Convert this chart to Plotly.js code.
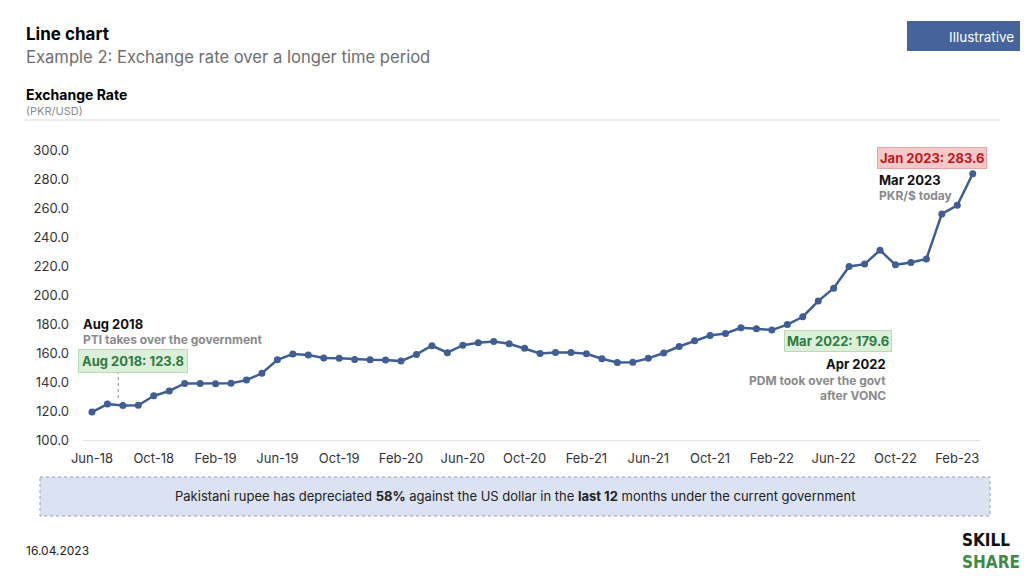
<!DOCTYPE html>
<html>
<head>
<meta charset="utf-8">
<script src="https://cdn.plot.ly/plotly-3.0.1.min.js"></script>
<style>html,body{margin:0;padding:0;background:#fff;}#chart{width:1024px;height:576px;}</style>
</head>
<body>
<div id="chart"></div>
<script>
const months = ["Jun-18","Jul-18","Aug-18","Sep-18","Oct-18","Nov-18","Dec-18",
"Jan-19","Feb-19","Mar-19","Apr-19","May-19","Jun-19","Jul-19","Aug-19","Sep-19","Oct-19","Nov-19","Dec-19",
"Jan-20","Feb-20","Mar-20","Apr-20","May-20","Jun-20","Jul-20","Aug-20","Sep-20","Oct-20","Nov-20","Dec-20",
"Jan-21","Feb-21","Mar-21","Apr-21","May-21","Jun-21","Jul-21","Aug-21","Sep-21","Oct-21","Nov-21","Dec-21",
"Jan-22","Feb-22","Mar-22","Apr-22","May-22","Jun-22","Jul-22","Aug-22","Sep-22","Oct-22","Nov-22","Dec-22",
"Jan-23","Feb-23","Mar-23"];
const rates = [119.3,124.8,123.8,124.0,130.5,133.8,139.0,
139.0,138.8,139.2,141.3,146.0,155.3,159.3,158.6,156.5,156.3,155.6,155.3,
155.1,154.4,159.0,165.0,160.2,165.4,167.0,168.0,166.4,163.2,159.7,160.4,
160.4,159.5,156.0,153.5,153.7,156.3,160.0,164.5,168.4,172.1,173.5,177.4,
176.7,175.8,179.6,185.0,195.8,204.7,219.7,221.3,230.9,220.8,222.4,224.9,
255.9,261.9,283.6];
const tickLabels = ["Jun-18","Oct-18","Feb-19","Jun-19","Oct-19","Feb-20","Jun-20","Oct-20","Feb-21","Jun-21","Oct-21","Feb-22","Jun-22","Oct-22","Feb-23"];
const yTicks = [100,120,140,160,180,200,220,240,260,280,300];

const L = 83, R = 44, T = 150, B = 136, W = 1024, H = 576;
const pw = W - L - R, ph = H - T - B;
const px = X => (X - L) / pw;
const py = Y => (H - B - Y) / ph;
const FONT = "Inter, 'Noto Sans', sans-serif";
const NARROW = "'DejaVu Sans Condensed', 'Liberation Sans Narrow', sans-serif";

function txt(text, X, Y, opts) {
  return Object.assign({
    text: text, xref: 'paper', yref: 'paper', x: px(X), y: py(Y),
    xanchor: 'left', yanchor: 'middle', showarrow: false,
    font: {family: FONT, size: 13, color: '#111'}
  }, opts || {});
}

const annotations = [
  txt('<b>Line chart</b>', 24, 34, {font: {family: FONT, size: 17, color: '#000'}}),
  txt('Example 2: Exchange rate over a longer time period', 24, 57, {font: {family: FONT, size: 16.6, color: '#6e6e6e'}}),
  txt('<b>Exchange Rate</b>', 24, 95, {font: {family: FONT, size: 14, color: '#000'}}),
  txt('(PKR/USD)', 24, 111, {font: {family: FONT, size: 11, color: '#8a8a8a'}}),
  txt('Illustrative', 1016, 37, {xanchor: 'right', font: {family: FONT, size: 13.5, color: '#ffffff'}}),

  txt('<b>Aug 2018</b>', 81, 324, {font: {family: FONT, size: 13, color: '#111'}}),
  txt('<b>PTI takes over the government</b>', 81, 339, {font: {family: FONT, size: 12, color: '#8a8a8a'}}),
  txt('<b>Aug 2018: 123.8</b>', 133, 361, {xanchor: 'center', bgcolor: '#dcefd9', bordercolor: '#b9dcb3', borderwidth: 1, borderpad: 3,
       font: {family: FONT, size: 13, color: '#2f7a42'}}),

  txt('<b>Jan 2023: 283.6</b>', 932, 158, {xanchor: 'center', bgcolor: '#f5c9c9', bordercolor: '#e6a5a5', borderwidth: 1, borderpad: 2,
       font: {family: FONT, size: 13, color: '#c4161c'}}),
  txt('<b>Mar 2023</b>', 877, 180, {font: {family: FONT, size: 13, color: '#111'}}),
  txt('<b>PKR/$ today</b>', 877, 195, {font: {family: FONT, size: 12, color: '#8a8a8a'}}),

  txt('<b>Mar 2022: 179.6</b>', 838, 341, {xanchor: 'center', bgcolor: '#dcefd9', bordercolor: '#b9dcb3', borderwidth: 1, borderpad: 2,
       font: {family: FONT, size: 13, color: '#2f7a42'}}),
  txt('<b>Apr 2022</b>', 888, 364, {xanchor: 'right', font: {family: FONT, size: 13, color: '#111'}}),
  txt('<b>PDM took over the govt</b>', 888, 380, {xanchor: 'right', font: {family: FONT, size: 12, color: '#8a8a8a'}}),
  txt('<b>after VONC</b>', 888, 395, {xanchor: 'right', font: {family: FONT, size: 12, color: '#8a8a8a'}}),

  txt('Pakistani rupee has depreciated <b>58%</b> against the US dollar in the <b>last 12</b> months under the current government',
      515, 496, {xanchor: 'center', font: {family: FONT, size: 13, color: '#222'}}),
  txt('16.04.2023', 24, 550, {font: {family: FONT, size: 12, color: '#222'}}),
  txt('<b>SKILL</b>', 960, 540, {font: {family: NARROW, size: 17, color: '#111'}}),
  txt('<b>SHARE</b>', 960, 562, {font: {family: NARROW, size: 17, color: '#3f8a4a'}})
];

const shapes = [
  {type: 'line', xref: 'paper', yref: 'paper', x0: px(24), x1: px(1000), y0: py(120), y1: py(120),
   line: {color: '#d9d9d9', width: 1}},
  {type: 'rect', xref: 'paper', yref: 'paper', x0: px(907), x1: px(1020), y0: py(21), y1: py(51),
   fillcolor: '#44649b', line: {width: 0}},
  {type: 'rect', xref: 'paper', yref: 'paper', x0: px(40), x1: px(990), y0: py(477), y1: py(516),
   fillcolor: '#dbe3f3', line: {color: '#8f9bb3', width: 1, dash: 'dot'}},
  {type: 'line', xref: 'x', yref: 'paper', x0: 1.7, x1: 1.7, y0: py(371), y1: py(401),
   line: {color: '#888', width: 1, dash: 'dot'}}
];

const trace = {
  x: months, y: rates, type: 'scatter', mode: 'lines+markers',
  line: {color: '#3e5e94', width: 2.5},
  marker: {color: '#3e5e94', size: 7},
  hoverinfo: 'x+y'
};

const layout = {
  width: W, height: H,
  margin: {l: L, r: R, t: T, b: B},
  paper_bgcolor: '#ffffff', plot_bgcolor: '#ffffff',
  showlegend: false,
  font: {family: FONT, color: '#333'},
  xaxis: {
    type: 'category', range: [-0.58, 57.47],
    tickmode: 'array', tickvals: tickLabels, ticktext: tickLabels,
    showgrid: false, zeroline: false, showline: true, linecolor: '#e3e3e3', linewidth: 1,
    ticks: '', tickfont: {family: FONT, size: 13, color: '#333'}, ticklabelstandoff: 6
  },
  yaxis: {
    range: [100, 300], tickmode: 'array', tickvals: yTicks,
    ticktext: yTicks.map(v => v.toFixed(1)),
    showgrid: false, zeroline: false, showline: false, ticks: '',
    tickfont: {family: FONT, size: 13, color: '#333'}, ticklabelstandoff: 13
  },
  annotations: annotations,
  shapes: shapes
};

Plotly.newPlot('chart', [trace], layout, {displayModeBar: false, staticPlot: true});
</script>
</body>
</html>
